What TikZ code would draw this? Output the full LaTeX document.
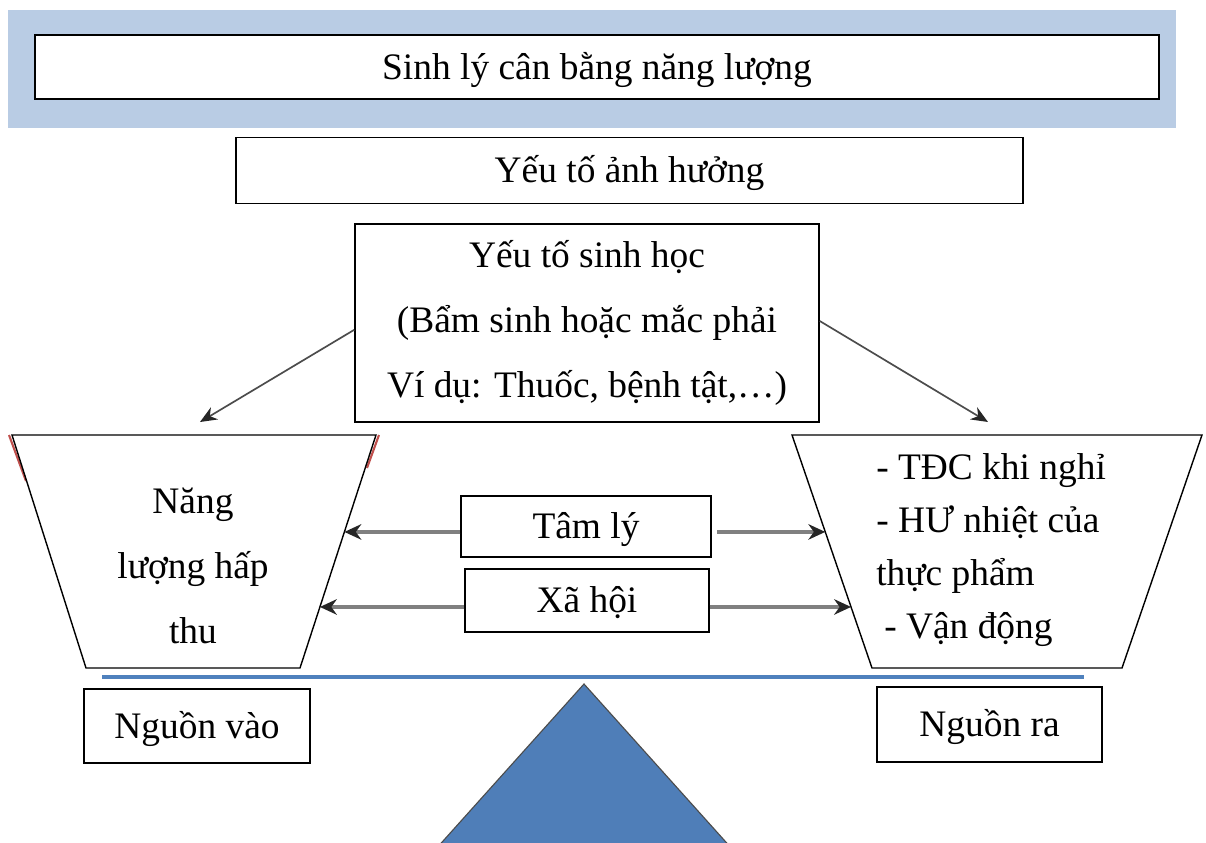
\documentclass[tikz,border=0pt]{standalone}
\usepackage{fontspec}
\setmainfont{Liberation Serif}
\usetikzlibrary{arrows.meta,calc}
\definecolor{bannerblue}{HTML}{B9CCE4}
\definecolor{beamblue}{HTML}{4F81BD}
\definecolor{pivotblue}{HTML}{4F7EB8}
\definecolor{edgered}{HTML}{C0504D}

\begin{document}
\begin{tikzpicture}[x=0.025cm,y=-0.025cm,
        txt/.style={font=\fontsize{26.6}{31}\selectfont},
        box/.style={txt,draw,line width=1pt,fill=white,inner sep=0pt,text height=17.5pt,text depth=0pt},
        pointer/.style={draw=black!70,line width=1.2pt,-{Stealth[length=12pt,width=10pt,color=black!85]}},
        sidearrow/.style={draw=black!50,line width=2.6pt,-{Stealth[length=12pt,width=11pt,color=black!85]}}]
        \clip (0,0) rectangle (1206,843);
        % --- Title ---
        \fill[bannerblue] (8,10) rectangle (1176,128);
        \node[box,minimum width=28.1cm,minimum height=1.6cm] (title) at (597,67)
            {Sinh lý cân bằng năng lượng};
        \node[box,minimum width=19.675cm,minimum height=1.65cm] (influence) at (629.5,170.5)
            {Yếu tố ảnh hưởng};
        % --- Biological factors ---
        \node[box,align=center,minimum width=11.6cm,minimum height=4.95cm,text height=,text depth=,
            font=\fontsize{26.6}{46.5}\selectfont] (bio) at (587,323)
            {Yếu tố sinh học\\(Bẩm sinh hoặc mắc phải\\Ví dụ: Thuốc, bệnh tật,…)};
        \coordinate (bioL) at (200,422);
        \coordinate (bioR) at (988,422);
        \draw[pointer] ([yshift=-0.17cm]bio.west) -- (bioL);
        \draw[pointer] ([yshift=0.05cm]bio.east) -- (bioR);
        % --- Intake ---
        \coordinate (inTL) at (12,435);
        \coordinate (inTR) at (376,435);
        \coordinate (inBR) at (300,668);
        \coordinate (inBL) at (86,668);
        \draw[edgered,line width=1.5pt] (9,435) -- (26,481);
        \draw[edgered,line width=1.5pt] (379,435) -- (367,468);
        \draw[line width=1pt] (inTL) -- (inTR) -- (inBR) -- (inBL) -- cycle;
        \node[txt,align=center,font=\fontsize{26.6}{46.5}\selectfont] (intake) at (193,566)
            {Năng\\lượng hấp\\thu};
        % --- Expenditure ---
        \coordinate (outTL) at (792,435);
        \coordinate (outTR) at (1202,435);
        \coordinate (outBR) at (1122,668);
        \coordinate (outBL) at (872,668);
        \draw[line width=1pt] (outTL) -- (outTR) -- (outBR) -- (outBL) -- cycle;
        \node[txt,anchor=west,align=left,inner sep=0pt,font=\fontsize{26.6}{37.5}\selectfont] (expend) at (876,550)
            {- TĐC khi nghỉ\\- HƯ nhiệt của\\thực phẩm\\\hspace*{0.2cm}- Vận động};
        % --- Psychological and social ---
        \node[box,minimum width=6.25cm,minimum height=1.525cm] (psych) at (586,526.5) {Tâm lý};
        \node[box,minimum width=6.1cm,minimum height=1.575cm] (social) at (587,600.5) {Xã hội};
        \coordinate (psychL) at ($(inTR)!0.416!(inBR)$);
        \coordinate (psychR) at ($(outTL)!0.416!(outBL)$);
        \coordinate (socialL) at ($(inTR)!0.738!(inBR)$);
        \coordinate (socialR) at ($(outTL)!0.738!(outBL)$);
        \draw[sidearrow] (psychL -| psych.west) -- (psychL);
        \draw[sidearrow,shorten <=0.13cm] (psychR -| psych.east) -- (psychR);
        \draw[sidearrow] (socialL -| social.west) -- (socialL);
        \draw[sidearrow] (socialR -| social.east) -- (socialR);
        % --- Balance ---
        \draw[beamblue,line width=3pt] (102,677) -- (1084,677);
        \node[box,minimum width=5.65cm,minimum height=1.85cm] (inflow) at (197,726) {Nguồn vào};
        \node[box,minimum width=5.625cm,minimum height=1.875cm] (outflow) at (989.5,724.5) {Nguồn ra};
        \draw[fill=pivotblue,draw=black!70,line width=0.8pt] (584,684) -- (742,860) -- (426,860) -- cycle;
    \end{tikzpicture}
\end{document}
